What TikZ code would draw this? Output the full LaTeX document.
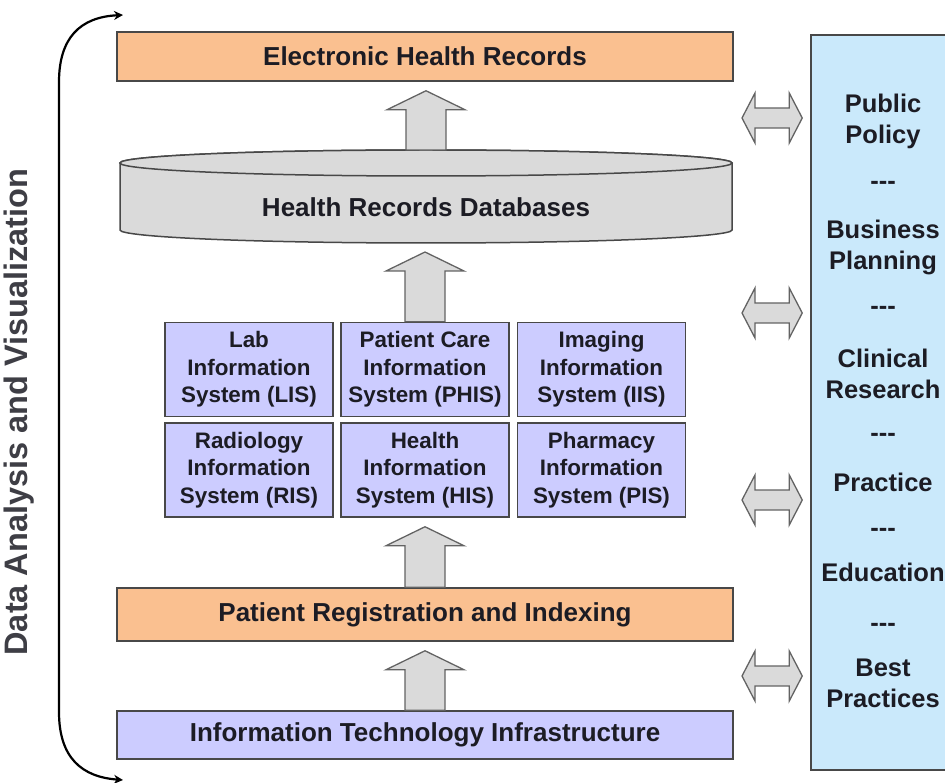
\documentclass[tikz,border=0pt]{standalone}
\usepackage{fontspec}
\setmainfont{Liberation Sans}
\usetikzlibrary{arrows.meta,calc}

\definecolor{recordorange}{RGB}{250,192,144}
\definecolor{syslavender}{RGB}{204,204,255}
\definecolor{vesselgray}{RGB}{218,218,218}
\definecolor{panelblue}{RGB}{202,233,251}
\definecolor{edgegray}{RGB}{72,72,72}
\definecolor{inkdark}{RGB}{28,28,36}

% broad upward arrow from the lower node (#1) to just under the upper node (#2)
\newcommand{\liftarrow}[2]{%
  \draw[lift] let \p1=(#1), \p2=(#2) in
    (\x1-20pt,\y1) -- (\x1-20pt,\y2-28pt) -- (\x1-39pt,\y2-28pt) -- (\x1,\y2-9pt)
    -- (\x1+39pt,\y2-28pt) -- (\x1+20pt,\y2-28pt) -- (\x1+20pt,\y1) -- cycle;}
% two-way arrow from coordinate #1 to the left side of node #2
\newcommand{\twoway}[2]{%
  \draw[lift] let \p1=(#1), \p2=(#2.west) in
    (\x1,\y1) -- (\x1+13pt,\y1+25pt) -- (\x1+13pt,\y1+10pt) -- (\x2-21pt,\y1+10pt)
    -- (\x2-21pt,\y1+25pt) -- (\x2-8pt,\y1) -- (\x2-21pt,\y1-25pt) -- (\x2-21pt,\y1-10pt)
    -- (\x1+13pt,\y1-10pt) -- (\x1+13pt,\y1-25pt) -- cycle;}

\begin{document}
\begin{tikzpicture}[x=1pt,y=-1pt]
        \tikzstyle{layer} = [draw=edgegray, line width=1.5pt, minimum width=616pt, text=inkdark,
                             font=\fontsize{26}{31}\selectfont\bfseries]
        \tikzstyle{orange layer} = [layer, fill=recordorange]
        \tikzstyle{lavender layer} = [layer, fill=syslavender]
        \tikzstyle{system} = [draw=edgegray, line width=1.5pt, fill=syslavender, text=inkdark,
                              minimum width=168pt, minimum height=94pt, inner sep=2pt, align=center,
                              font=\fontsize{22.4}{27.5}\selectfont\bfseries]
        \tikzstyle{vessel} = [draw=edgegray, line width=1.5pt, fill=vesselgray]
        \tikzstyle{lift} = [draw=edgegray!85, line width=1.3pt, fill=vesselgray, line join=miter]
        \tikzstyle{panel} = [draw=edgegray, line width=1.5pt, fill=panelblue,
                             minimum width=144pt, minimum height=735pt]
        \tikzstyle{use} = [align=center, text=inkdark, font=\fontsize{25.5}{31}\selectfont\bfseries]
        \tikzstyle{loop arrow} = [line width=2.2pt, {Stealth[length=9pt,width=9pt]}-{Stealth[length=9pt,width=9pt]}]

        \useasboundingbox (0,0) rectangle (945,783);

        % layers
        \node[orange layer, minimum height=49pt] (ehr) at (425,56.5) {Electronic Health Records};
        \node[orange layer, minimum height=53pt] (pri) at (425,614.5) {Patient Registration and Indexing};
        \node[lavender layer, minimum height=48pt] (iti) at (425,735) {Information Technology Infrastructure};

        % database
        \node[minimum width=612pt, minimum height=93pt, outer sep=0pt] (db) at (426,196.5) {};
        \draw[vessel] ([yshift=-13pt]db.north west) -- ([yshift=13pt]db.south west)
            arc[start angle=180, end angle=360, x radius=306pt, y radius=13pt]
            -- ([yshift=-13pt]db.north east)
            arc[start angle=0, end angle=180, x radius=306pt, y radius=13pt] -- cycle;
        \draw[vessel] ([yshift=-13pt]db.north) ellipse[x radius=306pt, y radius=13pt];
        \node[text=inkdark, font=\fontsize{26}{31}\selectfont\bfseries] (dbname) at ([yshift=-10.5pt]db.center) {Health Records Databases};

        % information systems
        \node[system] (lis) at (249,369.5) {Lab\\Information\\System (LIS)};
        \node[system] (phis) at (425,369.5) {Patient Care\\Information\\System (PHIS)};
        \node[system] (iis) at (601.5,369.5) {Imaging\\Information\\System (IIS)};
        \node[system] (ris) at (249,470) {Radiology\\Information\\System (RIS)};
        \node[system] (his) at (425,470) {Health\\Information\\System (HIS)};
        \node[system] (pis) at (601.5,470) {Pharmacy\\Information\\System (PIS)};

        \liftarrow{db.north}{ehr.south}
        \liftarrow{phis.north}{db.south}
        \liftarrow{pri.north}{his.south}
        \liftarrow{iti.north}{pri.south}

        % uses
        \node[panel] (panel) at (883,402.5) {};
        \node[use] (policy) at (883,121) {Public\\Policy};
        \node[use] (sep1) at (883,185) {-{}-{}-};
        \node[use] (business) at (883,247) {Business\\Planning};
        \node[use] (sep2) at (883,310) {-{}-{}-};
        \node[use] (clinical) at (883,373.5) {Clinical\\Research};
        \node[use] (sep3) at (883,437) {-{}-{}-};
        \node[use] (practice) at (883,482) {Practice};
        \node[use] (sep4) at (883,532) {-{}-{}-};
        \node[use] (education) at (883,572) {Education};
        \node[use] (sep5) at (883,627) {-{}-{}-};
        \node[use] (best) at (883,683.5) {Best\\Practices};

        \coordinate (w1) at (742,118);
        \coordinate (w2) at (742,313);
        \coordinate (w3) at (742,500);
        \coordinate (w4) at (742,676);
        \twoway{w1}{panel}
        \twoway{w2}{panel}
        \twoway{w3}{panel}
        \twoway{w4}{panel}

        % analysis loop
        \node[rotate=90, text=inkdark!85, font=\fontsize{32.5}{38}\selectfont\bfseries] (dav) at (19,412) {Data Analysis and Visualization};
        \coordinate (looptop) at (123,15);
        \coordinate (loopbot) at (123,780);
        \draw[loop arrow] (looptop) .. controls (80,17) and (59,38) .. (59,82) -- (59,712)
            .. controls (59,758) and (82,777) .. (loopbot);
    \end{tikzpicture}
\end{document}
